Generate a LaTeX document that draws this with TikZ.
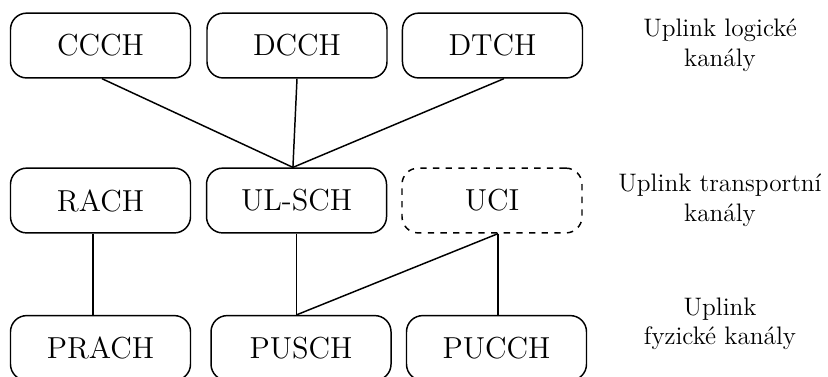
\documentclass[tikz,border=0pt]{standalone}
\usepackage{tikz}

\begin{document}
\begin{tikzpicture}[
		box/.style={draw,line width=0.7pt,rounded corners=0.27cm,minimum width=3cm,minimum height=1.08cm,inner sep=0pt,font=\Large},
		lbl/.style={align=center,font=\large},
		link/.style={line width=0.7pt}]
		\useasboundingbox (0,0) rectangle (13.8,6.267);
		% logicke kanaly
		\node[box] (CCCH) at (1.675,5.508) {CCCH};
		\node[box] (DCCH) at (4.95,5.508) {DCCH};
		\node[box] (DTCH) at (8.208,5.508) {DTCH};
		% transportni kanaly
		\node[box] (RACH) at (1.675,2.925) {RACH};
		\node[box] (ULSCH) at (4.942,2.925) {UL-SCH};
		\node[box,dashed] (UCI) at (8.2,2.925) {UCI};
		% fyzicke kanaly
		\node[box] (PRACH) at (1.675,0.467) {PRACH};
		\node[box] (PUSCH) at (5.017,0.467) {PUSCH};
		\node[box] (PUCCH) at (8.275,0.467) {PUCCH};
		% popisky
		\node[lbl] (lblLog) at (12,5.517) {Uplink logické\\kanály};
		\node[lbl] (lblTrans) at (12,2.933) {Uplink transportní\\kanály};
		\node[lbl] (lblFyz) at (12,0.867) {Uplink\\fyzické kanály};
		% spoje
		\foreach \src/\dx in {CCCH/0.025,DCCH/0,DTCH/0.19} {
				\draw[link] ([xshift=\dx cm]\src.south) -- ([xshift=-0.06cm]ULSCH.north);
			}
		\draw[link] ([xshift=-0.125cm]RACH.south) -- ([xshift=-0.125cm]RACH.south |- PRACH.north);
		\draw[link] (ULSCH.south) -- (ULSCH.south |- PUSCH.north);
		\draw[link] ([xshift=0.1cm]UCI.south) -- (ULSCH.south |- PUSCH.north);
		\draw[link] ([xshift=0.1cm]UCI.south) -- ([xshift=0.1cm]UCI.south |- PUCCH.north);
	\end{tikzpicture}
\end{document}
